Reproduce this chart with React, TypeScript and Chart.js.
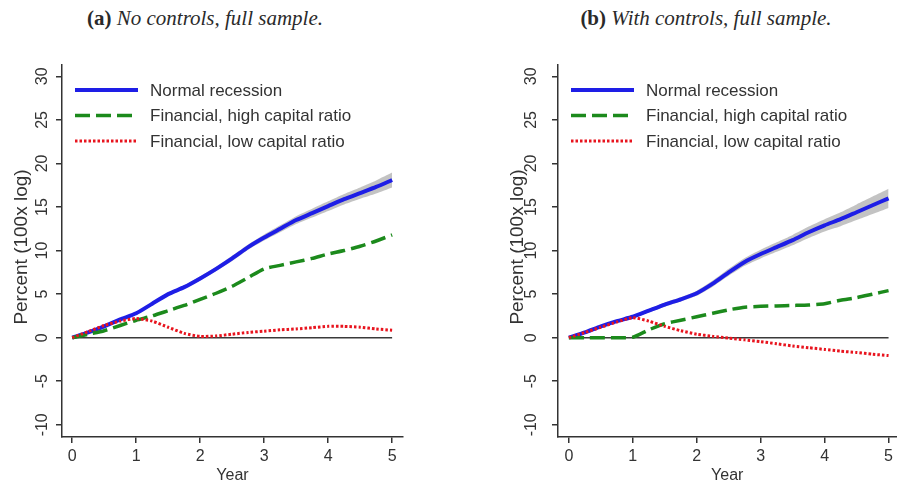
import React, { useEffect, useRef } from "react";
import { Chart, registerables } from "chart.js";

Chart.register(...registerables);

// ---------- data ----------
const YEARS = [0, 0.25, 0.5, 0.75, 1, 1.25, 1.5, 1.75, 2, 2.25, 2.5, 2.75, 3, 3.25, 3.5, 3.75, 4, 4.25, 4.5, 4.75, 5];
const X_TICKS = [0, 1, 2, 3, 4, 5];
const Y_TICKS = [-10, -5, 0, 5, 10, 15, 20, 25, 30];
const ZERO_X = [0, 5];
const ZERO_Y = [0, 0];

const LABEL_NORMAL = "Normal recession";
const LABEL_HIGH = "Financial, high capital ratio";
const LABEL_LOW = "Financial, low capital ratio";
const X_TITLE = "Year";
const Y_TITLE = "Percent (100x log)";
const TITLE_A_TAG = "(a)";
const TITLE_A_TEXT = "No controls, full sample.";
const TITLE_B_TAG = "(b)";
const TITLE_B_TEXT = "With controls, full sample.";

// Panel (a): no controls
const A_NORMAL = [0, 0.6, 1.3, 2.1, 2.8, 3.9, 5.0, 5.8, 6.8, 7.9, 9.1, 10.4, 11.5, 12.5, 13.5, 14.3, 15.1, 15.9, 16.6, 17.3, 18.1];
const A_NORMAL_UPPER = [0, 0.65, 1.4, 2.2, 2.95, 4.05, 5.2, 6.0, 7.05, 8.15, 9.4, 10.7, 11.85, 12.9, 13.95, 14.8, 15.65, 16.5, 17.25, 18.05, 18.95];
const A_NORMAL_LOWER = [0, 0.55, 1.2, 2.0, 2.65, 3.75, 4.8, 5.6, 6.55, 7.65, 8.8, 10.1, 11.15, 12.1, 13.05, 13.8, 14.55, 15.3, 15.95, 16.55, 17.25];
const A_HIGH = [0, 0.4, 0.8, 1.4, 2.0, 2.5, 3.1, 3.7, 4.4, 5.1, 5.9, 6.9, 7.9, 8.3, 8.7, 9.1, 9.6, 10.0, 10.5, 11.1, 11.8];
const A_LOW = [0, 0.7, 1.4, 1.9, 2.2, 1.9, 1.2, 0.5, 0.15, 0.2, 0.4, 0.6, 0.75, 0.9, 1.0, 1.15, 1.3, 1.3, 1.2, 1.0, 0.85];

// Panel (b): with controls
const B_NORMAL = [0, 0.6, 1.3, 1.9, 2.4, 3.1, 3.8, 4.4, 5.1, 6.2, 7.5, 8.7, 9.6, 10.4, 11.2, 12.1, 12.9, 13.6, 14.4, 15.2, 16.0];
const B_NORMAL_UPPER = [0, 0.65, 1.4, 2.05, 2.55, 3.3, 4.05, 4.65, 5.4, 6.55, 7.9, 9.15, 10.1, 10.95, 11.8, 12.75, 13.6, 14.4, 15.3, 16.2, 17.1];
const B_NORMAL_LOWER = [0, 0.55, 1.2, 1.75, 2.25, 2.9, 3.55, 4.15, 4.8, 5.85, 7.1, 8.25, 9.1, 9.85, 10.6, 11.45, 12.2, 12.8, 13.5, 14.2, 14.9];
const B_HIGH = [0, 0, 0, 0, 0.05, 0.9, 1.6, 2.0, 2.4, 2.8, 3.2, 3.5, 3.6, 3.65, 3.7, 3.75, 3.9, 4.3, 4.6, 5.0, 5.4];
const B_LOW = [0, 0.6, 1.2, 1.8, 2.3, 1.9, 1.3, 0.8, 0.4, 0.15, -0.05, -0.25, -0.45, -0.7, -0.95, -1.15, -1.35, -1.55, -1.7, -1.9, -2.05];

// ---------- styles ----------
const BLUE = "#1e1ee6";
const GREEN = "#1c8a1c";
const RED = "#e8141e";
const BAND = "rgba(175,175,175,0.75)";
const AXIS = "#333333";
const FONT = "'Liberation Sans', Arial, sans-serif";

type PanelProps = {
  normal: number[];
  upper: number[];
  lower: number[];
  high: number[];
  low: number[];
  width: number;
  height: number;
  xMin: number;
  xMax: number;
  yAxisWidth: number;
  padRight: number;
  tickLabelX: number;
  titleX: number;
};

const pts = (xs: number[], ys: number[]) => xs.map((x, i) => ({ x, y: ys[i] }));

function Panel(p: PanelProps) {
  const ref = useRef<HTMLCanvasElement | null>(null);

  useEffect(() => {
    if (!ref.current) return;

    const overlay = {
      id: "overlay",
      afterDraw(chart: any) {
        const ctx = chart.ctx as CanvasRenderingContext2D;
        const area = chart.chartArea;
        const yScale = chart.scales.y;
        ctx.save();
        // y tick labels, rotated (Stata style)
        ctx.fillStyle = AXIS;
        ctx.font = `16px ${FONT}`;
        ctx.textAlign = "center";
        ctx.textBaseline = "middle";
        Y_TICKS.forEach((v) => {
          const py = yScale.getPixelForValue(v);
          ctx.save();
          ctx.translate(p.tickLabelX, py);
          ctx.rotate(-Math.PI / 2);
          ctx.fillText(String(v), 0, 0);
          ctx.restore();
        });
        // y axis title
        ctx.save();
        ctx.font = `19px ${FONT}`;
        ctx.translate(p.titleX, (area.top + area.bottom) / 2 - 4);
        ctx.rotate(-Math.PI / 2);
        ctx.fillText(Y_TITLE, 0, 0);
        ctx.restore();

        // legend inside plot area
        const order = [2, 1, 0];
        order.forEach((di, row) => {
          const ds = chart.data.datasets[di];
          const y = area.top + 25 + row * 25.5;
          const x0 = area.left + 13;
          ctx.save();
          ctx.strokeStyle = ds.borderColor;
          ctx.lineWidth = ds.borderWidth;
          ctx.setLineDash(ds.borderDash || []);
          ctx.lineCap = "butt";
          ctx.beginPath();
          ctx.moveTo(x0, y);
          ctx.lineTo(x0 + 63, y);
          ctx.stroke();
          ctx.restore();
          ctx.fillStyle = AXIS;
          ctx.textAlign = "left";
          ctx.textBaseline = "middle";
          ctx.font = `17px ${FONT}`;
          ctx.fillText(ds.label, x0 + 75, y + 1);
        });
        ctx.restore();
      },
    };

    const chart = new Chart(ref.current, {
      type: "line",
      data: {
        datasets: [
          {
            label: LABEL_LOW,
            data: pts(YEARS, p.low),
            borderColor: RED,
            borderWidth: 3,
            borderDash: [2.5, 2],
            pointRadius: 0,
            tension: 0.2,
            fill: false,
          },
          {
            label: LABEL_HIGH,
            data: pts(YEARS, p.high),
            borderColor: GREEN,
            borderWidth: 3.5,
            borderDash: [15, 6],
            pointRadius: 0,
            tension: 0.2,
            fill: false,
          },
          {
            label: LABEL_NORMAL,
            data: pts(YEARS, p.normal),
            borderColor: BLUE,
            borderWidth: 4,
            pointRadius: 0,
            tension: 0.2,
            fill: false,
          },
          {
            label: "upper",
            data: pts(YEARS, p.upper),
            borderColor: "rgba(0,0,0,0)",
            borderWidth: 0,
            backgroundColor: BAND,
            pointRadius: 0,
            tension: 0.2,
            fill: "+1",
          },
          {
            label: "lower",
            data: pts(YEARS, p.lower),
            borderColor: "rgba(0,0,0,0)",
            borderWidth: 0,
            pointRadius: 0,
            tension: 0.2,
            fill: false,
          },
          {
            label: "zero",
            data: pts(ZERO_X, ZERO_Y),
            borderColor: "#3a3a3a",
            borderWidth: 1.5,
            pointRadius: 0,
            fill: false,
          },
        ],
      },
      options: {
        responsive: false,
        animation: false,
        events: [],
        layout: { padding: { left: 0, top: 25, right: p.padRight, bottom: 0 } },
        plugins: {
          legend: { display: false },
          tooltip: { enabled: false },
          title: { display: false },
        },
        scales: {
          x: {
            type: "linear",
            min: p.xMin,
            max: p.xMax,
            afterBuildTicks: (s: any) => {
              s.ticks = X_TICKS.map((v) => ({ value: v }));
            },
            afterFit: (s: any) => {
              s.height = 46;
            },
            ticks: {
              color: AXIS,
              font: { family: FONT, size: 16 },
              padding: 4,
              maxRotation: 0,
              minRotation: 0,
              autoSkip: false,
            },
            grid: {
              display: true,
              drawOnChartArea: false,
              drawTicks: true,
              tickLength: 6,
              color: AXIS,
              lineWidth: 1.5,
            },
            border: { display: true, color: AXIS, width: 1.5 },
            title: {
              display: true,
              text: X_TITLE,
              color: AXIS,
              font: { family: FONT, size: 16 },
              padding: { top: 0, bottom: -2 },
            },
          },
          y: {
            type: "linear",
            min: -11.4,
            max: 31.3,
            afterBuildTicks: (s: any) => {
              s.ticks = Y_TICKS.map((v) => ({ value: v }));
            },
            afterFit: (s: any) => {
              s.width = p.yAxisWidth;
            },
            ticks: { display: false },
            grid: {
              display: true,
              drawOnChartArea: false,
              drawTicks: true,
              tickLength: 6,
              color: AXIS,
              lineWidth: 1.5,
            },
            border: { display: true, color: AXIS, width: 1.5 },
          },
        },
      },
      plugins: [overlay],
    } as any);

    return () => chart.destroy();
  }, []);

  return <canvas ref={ref} width={p.width} height={p.height} style={{ width: p.width, height: p.height, display: "block" }} />;
}

const titleStyle: React.CSSProperties = {
  position: "absolute",
  top: 6,
  width: 360,
  textAlign: "center",
  fontFamily: "'Liberation Serif', 'DejaVu Serif', serif",
  fontSize: 21,
  lineHeight: "24px",
  color: "#2a2a2a",
  whiteSpace: "nowrap",
};

export default function App() {
  return (
    <div style={{ position: "absolute", left: 0, top: 0, width: 897, height: 483, background: "#fff", overflow: "hidden" }}>
      <div style={{ ...titleStyle, left: 205 - 180 }}>
        <b>{TITLE_A_TAG}</b> <i>{TITLE_A_TEXT}</i>
      </div>
      <div style={{ ...titleStyle, left: 706 - 180 }}>
        <b>{TITLE_B_TAG}</b> <i>{TITLE_B_TEXT}</i>
      </div>
      <div style={{ position: "absolute", left: 0, top: 40 }}>
        <Panel
          normal={A_NORMAL}
          upper={A_NORMAL_UPPER}
          lower={A_NORMAL_LOWER}
          high={A_HIGH}
          low={A_LOW}
          width={448}
          height={443}
          xMin={-0.16}
          xMax={5.17}
          yAxisWidth={62}
          padRight={45}
          tickLabelX={43}
          titleX={22}
        />
      </div>
      <div style={{ position: "absolute", left: 448, top: 40 }}>
        <Panel
          normal={B_NORMAL}
          upper={B_NORMAL_UPPER}
          lower={B_NORMAL_LOWER}
          high={B_HIGH}
          low={B_LOW}
          width={449}
          height={443}
          xMin={-0.17}
          xMax={5.125}
          yAxisWidth={110}
          padRight={0}
          tickLabelX={84}
          titleX={70}
        />
      </div>
    </div>
  );
}
